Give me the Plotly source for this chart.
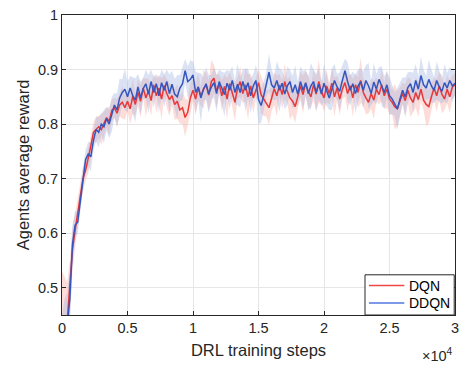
import plotly.graph_objects as go

steps = [i * 200 for i in range(151)]

dqn_mean = [0.38, 0.42, 0.44, 0.50, 0.57, 0.605, 0.64, 0.675, 0.70, 0.715,
            0.735, 0.76, 0.785, 0.79, 0.795, 0.79, 0.80, 0.812, 0.805, 0.825,
            0.83, 0.82, 0.835, 0.84, 0.83, 0.842, 0.828, 0.851, 0.836, 0.858,
            0.842, 0.866, 0.848, 0.861, 0.843, 0.872, 0.852, 0.866, 0.846, 0.871,
            0.856, 0.845, 0.852, 0.836, 0.842, 0.826, 0.83, 0.812, 0.822, 0.848,
            0.862, 0.846, 0.868, 0.851, 0.864, 0.872, 0.853, 0.878, 0.884, 0.86,
            0.874, 0.852, 0.869, 0.846, 0.874, 0.857, 0.84, 0.866, 0.878, 0.856,
            0.872, 0.85, 0.87, 0.848, 0.864, 0.876, 0.854, 0.845, 0.838, 0.83,
            0.846, 0.865, 0.852, 0.872, 0.854, 0.878, 0.86, 0.848, 0.842, 0.832,
            0.85, 0.87, 0.854, 0.875, 0.86, 0.85, 0.872, 0.855, 0.878, 0.86,
            0.848, 0.87, 0.856, 0.875, 0.85, 0.866, 0.846, 0.864, 0.876, 0.856,
            0.87, 0.848, 0.872, 0.858, 0.88, 0.858, 0.848, 0.84, 0.856, 0.844,
            0.864, 0.854, 0.872, 0.852, 0.864, 0.846, 0.84, 0.832, 0.828, 0.842,
            0.856, 0.843, 0.862, 0.848, 0.84, 0.858, 0.845, 0.864, 0.844, 0.836,
            0.832, 0.85, 0.866, 0.852, 0.87, 0.855, 0.846, 0.864, 0.85, 0.868,
            0.872]

dqn_std = [0.15, 0.10, 0.07, 0.05, 0.04, 0.03, 0.025, 0.02, 0.022, 0.018,
           0.025, 0.02, 0.018, 0.024, 0.02, 0.028, 0.022, 0.018, 0.026, 0.02,
           0.018, 0.026, 0.02, 0.03, 0.022, 0.018, 0.028, 0.032, 0.02, 0.025,
           0.03, 0.018, 0.035, 0.022, 0.028, 0.02, 0.032, 0.024, 0.038, 0.02,
           0.026, 0.03, 0.018, 0.028, 0.032, 0.025, 0.03, 0.035, 0.022, 0.028,
           0.02, 0.03, 0.024, 0.018, 0.035, 0.022, 0.028, 0.04, 0.025, 0.03,
           0.018, 0.028, 0.022, 0.038, 0.02, 0.026, 0.035, 0.02, 0.028, 0.018,
           0.03, 0.042, 0.022, 0.028, 0.02, 0.026, 0.035, 0.03, 0.024, 0.032,
           0.022, 0.03, 0.038, 0.02, 0.026, 0.032, 0.022, 0.04, 0.025, 0.03,
           0.02, 0.026, 0.035, 0.022, 0.03, 0.018, 0.028, 0.032, 0.04, 0.022,
           0.026, 0.03, 0.02, 0.028, 0.036, 0.022, 0.03, 0.018, 0.026, 0.032,
           0.022, 0.035, 0.02, 0.028, 0.042, 0.025, 0.03, 0.02, 0.028, 0.035,
           0.022, 0.018, 0.03, 0.024, 0.035, 0.028, 0.022, 0.042, 0.032, 0.025,
           0.02, 0.03, 0.024, 0.035, 0.02, 0.028, 0.032, 0.022, 0.018, 0.04,
           0.03, 0.024, 0.02, 0.03, 0.025, 0.035, 0.02, 0.026, 0.03, 0.022,
           0.02]

ddqn_mean = [0.35, 0.40, 0.43, 0.48, 0.58, 0.615, 0.62, 0.66, 0.70, 0.735,
             0.745, 0.74, 0.77, 0.79, 0.785, 0.80, 0.795, 0.81, 0.80, 0.818,
             0.835, 0.826, 0.848, 0.858, 0.864, 0.85, 0.866, 0.852, 0.844, 0.868,
             0.848, 0.865, 0.874, 0.855, 0.878, 0.858, 0.874, 0.852, 0.876, 0.862,
             0.878, 0.856, 0.873, 0.855, 0.85, 0.866, 0.874, 0.898, 0.878, 0.882,
             0.89, 0.858, 0.868, 0.848, 0.864, 0.874, 0.855, 0.868, 0.876, 0.856,
             0.878, 0.866, 0.854, 0.875, 0.862, 0.88, 0.858, 0.873, 0.858, 0.878,
             0.862, 0.876, 0.852, 0.87, 0.88, 0.845, 0.834, 0.852, 0.874, 0.895,
             0.872, 0.866, 0.88, 0.862, 0.875, 0.855, 0.87, 0.878, 0.858, 0.872,
             0.855, 0.878, 0.862, 0.876, 0.856, 0.87, 0.878, 0.858, 0.873, 0.855,
             0.875, 0.862, 0.848, 0.864, 0.88, 0.868, 0.86, 0.88, 0.898, 0.878,
             0.862, 0.874, 0.856, 0.87, 0.878, 0.862, 0.88, 0.87, 0.856, 0.877,
             0.864, 0.882, 0.87, 0.858, 0.872, 0.852, 0.846, 0.836, 0.828, 0.846,
             0.862, 0.85, 0.867, 0.874, 0.858, 0.88, 0.864, 0.889, 0.872, 0.866,
             0.882, 0.87, 0.862, 0.88, 0.868, 0.86, 0.876, 0.866, 0.88, 0.87,
             0.875]

ddqn_std = [0.10, 0.08, 0.06, 0.05, 0.035, 0.025, 0.02, 0.024, 0.02, 0.018,
            0.022, 0.026, 0.018, 0.022, 0.028, 0.02, 0.03, 0.022, 0.026, 0.032,
            0.022, 0.03, 0.035, 0.024, 0.038, 0.028, 0.022, 0.034, 0.04, 0.024,
            0.03, 0.02, 0.026, 0.035, 0.022, 0.028, 0.018, 0.032, 0.024, 0.03,
            0.022, 0.035, 0.025, 0.028, 0.04, 0.024, 0.03, 0.022, 0.028, 0.035,
            0.025, 0.038, 0.026, 0.045, 0.022, 0.03, 0.035, 0.022, 0.028, 0.034,
            0.022, 0.03, 0.04, 0.024, 0.035, 0.026, 0.022, 0.038, 0.028, 0.022,
            0.04, 0.026, 0.032, 0.022, 0.028, 0.045, 0.032, 0.026, 0.022, 0.034,
            0.028, 0.022, 0.035, 0.04, 0.024, 0.028, 0.035, 0.022, 0.03, 0.036,
            0.022, 0.028, 0.035, 0.024, 0.03, 0.042, 0.022, 0.034, 0.028, 0.022,
            0.035, 0.028, 0.022, 0.038, 0.03, 0.024, 0.035, 0.028, 0.022, 0.036,
            0.028, 0.022, 0.035, 0.03, 0.024, 0.034, 0.028, 0.042, 0.022, 0.035,
            0.028, 0.022, 0.036, 0.03, 0.024, 0.035, 0.028, 0.022, 0.038, 0.03,
            0.024, 0.035, 0.028, 0.022, 0.036, 0.03, 0.024, 0.035, 0.028, 0.022,
            0.036, 0.03, 0.024, 0.035, 0.028, 0.022, 0.034, 0.028, 0.024, 0.03,
            0.022]

x_tick_vals = [0, 5000, 10000, 15000, 20000, 25000, 30000]
x_tick_text = ["0", "0.5", "1", "1.5", "2", "2.5", "3"]
y_tick_vals = [0.5, 0.6, 0.7, 0.8, 0.9, 1.0]
y_tick_text = ["0.5", "0.6", "0.7", "0.8", "0.9", "1"]

series = [
    ("DQN", dqn_mean, dqn_std, "rgb(232,56,56)", "rgba(250,165,155,0.38)"),
    ("DDQN", ddqn_mean, ddqn_std, "rgb(52,86,190)", "rgba(160,180,225,0.38)"),
]
legend_colors = ["rgb(240,70,70)", "rgb(80,120,225)"]

fig = go.Figure()
for name, m, s, lc, fc in series:
    upper = [a + b for a, b in zip(m, s)]
    lower = [a - b for a, b in zip(m, s)]
    fig.add_trace(go.Scatter(
        x=steps + steps[::-1], y=upper + lower[::-1],
        fill="toself", fillcolor=fc, line=dict(width=0),
        mode="lines", hoverinfo="skip", showlegend=False))
for name, m, s, lc, fc in series:
    fig.add_trace(go.Scatter(
        x=steps, y=m, mode="lines", name=name, showlegend=False,
        line=dict(color=lc, width=1.5)))

font_family = "Liberation Sans, Arial, sans-serif"
axis_common = dict(
    showline=True, linecolor="#262626", linewidth=1, mirror="ticks",
    ticks="inside", ticklen=4, tickcolor="#262626",
    showgrid=True, gridcolor="#E6E6E6", gridwidth=1, zeroline=False,
    tickfont=dict(family=font_family, size=14.5, color="#262626"),
)

# legend drawn as a box with line samples and text labels (paper coordinates)
box = dict(x0=0.771, x1=0.998, y0=0.0, y1=0.134)
rows_y = [0.098, 0.040]
shapes = [dict(type="rect", xref="paper", yref="paper", layer="above",
               fillcolor="white", line=dict(color="#262626", width=1), **box)]
annotations = []
for (name, m, s, lc, fc), lcol, ry in zip(series, legend_colors, rows_y):
    shapes.append(dict(type="line", xref="paper", yref="paper", layer="above",
                       x0=0.781, x1=0.871, y0=ry, y1=ry,
                       line=dict(color=lcol, width=1.5)))
    annotations.append(dict(text=name, xref="paper", yref="paper",
                            x=0.877, y=ry, xanchor="left", yanchor="middle",
                            showarrow=False,
                            font=dict(family=font_family, size=14, color="#000000")))

annotations.append(dict(text="×10<sup>4</sup>", xref="paper", yref="paper",
                        x=1.0, y=-0.095, xanchor="right", yanchor="top",
                        showarrow=False,
                        font=dict(family=font_family, size=14.5, color="#262626")))

fig.update_layout(
    width=466, height=369,
    margin=dict(l=62, r=7, t=8, b=54),
    paper_bgcolor="white", plot_bgcolor="white",
    font=dict(family=font_family, color="#262626"),
    xaxis=dict(range=[0, 30000], tickvals=x_tick_vals, ticktext=x_tick_text,
               title=dict(text="DRL training steps", standoff=9,
                          font=dict(family=font_family, size=16.5, color="#262626")),
               **axis_common),
    yaxis=dict(range=[0.45, 1.0], tickvals=y_tick_vals, ticktext=y_tick_text,
               title=dict(text="Agents average reward", standoff=4,
                          font=dict(family=font_family, size=16.5, color="#262626")),
               **axis_common),
    showlegend=False,
    shapes=shapes,
    annotations=annotations,
)

fig.write_html("out.html")
